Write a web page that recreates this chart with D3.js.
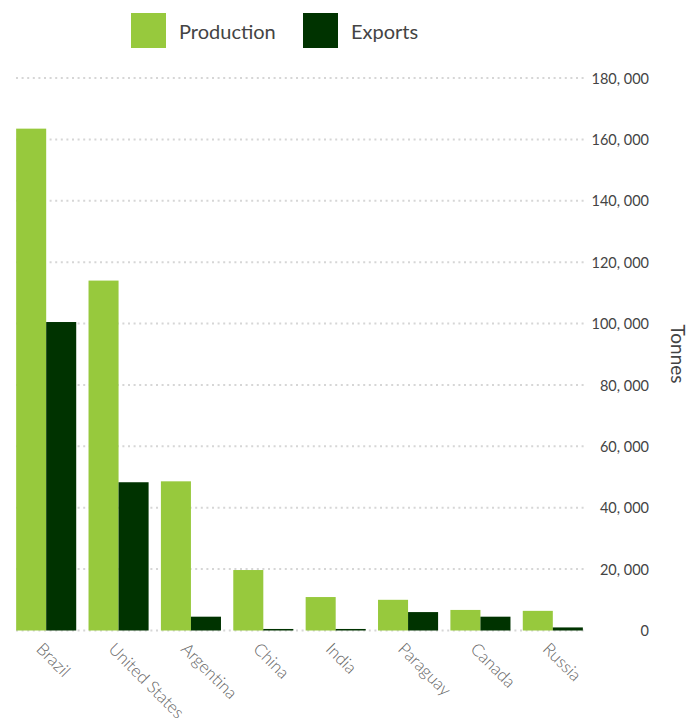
<!DOCTYPE html>
<html><head><meta charset="utf-8">
<script src="https://cdn.jsdelivr.net/npm/d3@7"></script>
<style>body{margin:0;background:#fff}svg{display:block}</style>
</head><body>
<svg id="chart" width="698" height="722"></svg>
<script>
const categories = ["Brazil","United States","Argentina","China","India","Paraguay","Canada","Russia"];
const production = [163500, 114000, 48600, 19700, 10900, 10000, 6700, 6400];
const exports_ = [100500, 48300, 4500, 500, 500, 6000, 4500, 1000];
const seriesNames = ["Production","Exports"];
const yTicks = [0,20000,40000,60000,80000,100000,120000,140000,160000,180000];
const colors = ["#97c93d","#003300"];

const svg = d3.select("#chart");
const font = "Lato, 'Noto Sans', sans-serif";

const x = d3.scaleBand().domain(categories).range([10, 589]).paddingInner(0.17).paddingOuter(0.085);
const xs = d3.scaleBand().domain(seriesNames).range([0, x.bandwidth()]);
const y = d3.scaleLinear().domain([0,180000]).range([630.5, 78]);

// grid
svg.append("g").selectAll("line").data(yTicks).join("line")
  .attr("x1", 16).attr("x2", 584)
  .attr("y1", d=>y(d)).attr("y2", d=>y(d))
  .attr("stroke", "#d6d6d6").attr("stroke-width", 2)
  .attr("stroke-dasharray", "2,3.6");

// bars
const data = categories.map((c,i)=>({c, vals:[production[i], exports_[i]]}));
const g = svg.append("g").selectAll("g").data(data).join("g")
  .attr("transform", d=>`translate(${x(d.c)},0)`);
g.selectAll("rect").data(d=>d.vals.map((v,j)=>({v, s:seriesNames[j], j}))).join("rect")
  .attr("x", d=>xs(d.s)).attr("width", xs.bandwidth())
  .attr("y", d=>y(d.v)).attr("height", d=>y(0)-y(d.v))
  .attr("fill", d=>colors[d.j]);

// y axis on right
const fmt = d => d===0 ? "0" : d3.format(",")(d).replace(",", ", ");
const yAxis = d3.axisRight(y).tickValues(yTicks).tickFormat(fmt).tickSize(0);
const ya = svg.append("g").attr("transform","translate(649,0)").call(yAxis);
ya.select(".domain").remove();
ya.selectAll("text").attr("text-anchor","end").attr("x",0).attr("dy","0.35em")
  .attr("font-family", font).attr("font-size", 14.5).attr("fill","#444");

svg.append("text").attr("transform","translate(671,354) rotate(90)")
  .attr("text-anchor","middle").attr("font-family", font).attr("font-size", 19)
  .attr("fill","#444").text("Tonnes");

// x labels
const xAxis = d3.axisBottom(x).tickSize(0);
const xa = svg.append("g").attr("transform","translate(0,631)").call(xAxis);
xa.select(".domain").remove();
xa.selectAll("text")
  .attr("text-anchor","start").attr("x",0).attr("y",0).attr("dy",0)
  .attr("transform","translate(-11,19) rotate(45)")
  .attr("font-family", font).attr("font-weight", 300).attr("font-size", 17).attr("fill","#666");

// legend
const legX = [131, 303];
const lg = svg.append("g").selectAll("g").data(seriesNames).join("g")
  .attr("transform",(d,i)=>`translate(${legX[i]},13)`);
lg.append("rect").attr("width",35).attr("height",35).attr("fill",(d,i)=>colors[i]);
lg.append("text").attr("x",48).attr("y",26).attr("font-family",font).attr("font-size",20)
  .attr("fill","#444").text(d=>d);
</script>
</body></html>
